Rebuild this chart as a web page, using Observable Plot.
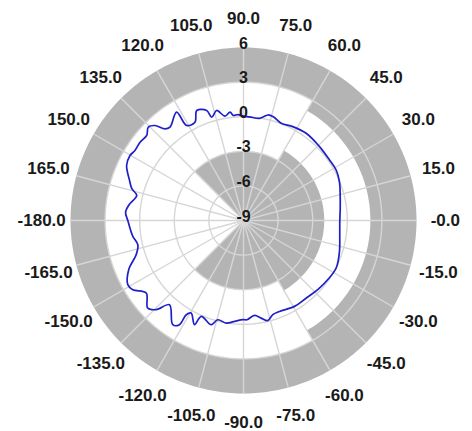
<!DOCTYPE html>
<html><head><meta charset="utf-8">
<script src="https://cdn.jsdelivr.net/npm/d3@7"></script>
<script src="https://cdn.jsdelivr.net/npm/@observablehq/plot@0.6"></script>
<style>body{margin:0;background:#fff}</style>
</head><body><div id="chart"></div>
<script>
// Measured pattern: angle (deg) and gain (dB), in path order
const angles = [-180,-172,-167,-162.3,-157,-151,-148,-143.3,-137.6,-134.4,-131.3,-124.2,-121.6,-121.3,-119.5,-115.2,-113.8,-107.2,-104.5,-99.6,-95,-90.4,
  -88,-83.4,-79.7,-76.4,-72.7,-68.4,-59.3,-51,-43,-35,-27,-17.8,-9,0,7,14.8,22,28.6,35,44.2,54.3,62.3,68.8,74,77,81,86.7,90,
  93,95.5,97.1,100.1,103.7,107.1,108.5,113,116.3,120.9,121.7,128.2,130.6,133,135.6,138.7,143,147.2,150.2,154.8,160.4,164,166.8,172,176];
const gains = [1.03,0.7,0.4,0.77,1.8,2.47,2.32,1.52,2.25,1.82,0.72,1.92,1.6,0.56,0.22,0.98,0.08,0.46,-0.11,0.02,-0.22,-0.4,
  -0.39,-0.72,-0.4,-0.07,-0.45,-0.52,-0.34,-0.35,-0.2,-0.07,0.03,-0.26,-0.55,-0.65,-0.55,-0.33,-0.03,0.15,0.12,0.19,0.31,0.19,0.04,0.36,0.39,-0.03,0,0.05,
  0.2,0.15,0.47,0.19,0.82,0.37,1.06,1.36,0.5,0.6,2.04,1.3,1.47,2.26,2.56,2.17,2.25,2.2,2.34,2.2,1.5,1.08,0.51,1.0,1.25];

const angleTicks = [0,15,30,45,60,75,90,105,120,135,150,165,180,-165,-150,-135,-120,-105,-90,-75,-60,-45,-30,-15];
const angleLabels = ["-0.0","15.0","30.0","45.0","60.0","75.0","90.0","105.0","120.0","135.0","150.0","165.0","-180.0","-165.0","-150.0","-135.0","-120.0","-105.0","-90.0","-75.0","-60.0","-45.0","-30.0","-15.0"];
const radialTicks = [-9,-6,-3,0,3,6];
const ringLevels = [-6,-3,0,3];
const rMin = -9, rMax = 6;

// Limit masks (angle sectors and levels in dB)
const upperFrom = [-60, 60], upperTo = [60, 300], upperLevel = [2, 3];
const lowerFrom = [-60, 60, -135], lowerTo = [60, 135, -60], lowerLevel = [-2, -3, -3];

const k = 4; // degrees of arc per dB in the polar (azimuthal) mapping
const lat = v => 90 - k * (v - rMin);

function sector(a, b, v0, v1) {
  const ring = [];
  for (let t = a; t <= b; t += 1) ring.push([t, lat(v1)]);
  if (v0 <= rMin) ring.push([(a + b) / 2, 90]);
  else for (let t = b; t >= a; t -= 1) ring.push([t, lat(v0)]);
  ring.push(ring[0]);
  const f = {type: "Feature", geometry: {type: "Polygon", coordinates: [ring]}};
  if (d3.geoArea(f) > 2 * Math.PI) ring.reverse();
  return f;
}
const masks = [
  ...upperFrom.map((a, i) => sector(a, upperTo[i], upperLevel[i], rMax)),
  ...lowerFrom.map((a, i) => sector(a, lowerTo[i], rMin, lowerLevel[i]))
];
const rings = ringLevels.map(v => d3.geoCircle().center([0, 90]).radius(k * (v - rMin))());
const pattern = angles.map((a, i) => ({angle: a, gain: gains[i]}));
const spokes = d3.range(0, 360, 15);
const font = "Liberation Sans, Arial, sans-serif";

const chart = Plot.plot({
  width: 472, height: 431,
  marginLeft: 70, marginRight: 56, marginTop: 47, marginBottom: 38,
  projection: {type: "azimuthal-equidistant", rotate: [90, -90], domain: d3.geoCircle().center([0, 90]).radius(k * (rMax - rMin))(), inset: 0, clip: false},
  style: {background: "#fff"},
  marks: [
    Plot.geo(masks, {fill: "#b4b4b4", stroke: "none"}),
    Plot.link(spokes, {x1: d => d, y1: 90, x2: d => d, y2: lat(rMax), stroke: "#d6d6d6", strokeWidth: 1.4}),
    Plot.geo(rings, {fill: "none", stroke: "#d6d6d6", strokeWidth: 1.4}),
    Plot.line(pattern, {x: "angle", y: d => lat(d.gain), curve: "catmull-rom-closed", stroke: "#1f1fc8", strokeWidth: 1.7}),
    Plot.text(angleTicks, {x: d => d, y: lat(8.5), text: (d, i) => angleLabels[i], fontSize: 17, fontWeight: "bold", fill: "#1a1a1a", fontFamily: font}),
    Plot.text(radialTicks, {x: 90, y: d => lat(d), text: d => String(d), dy: -4, fontSize: 16, fontWeight: "bold", fill: "#1a1a1a", fontFamily: font})
  ]
});
document.getElementById("chart").appendChild(chart);
</script>
</body></html>
